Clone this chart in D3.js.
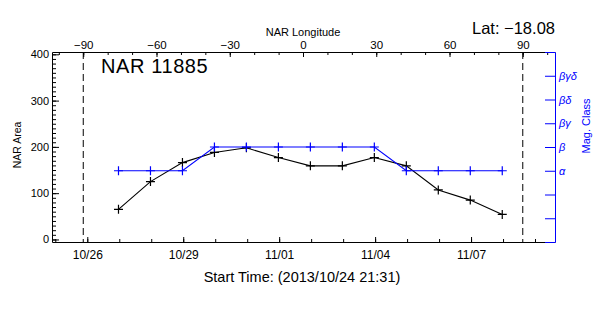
<!DOCTYPE html>
<html>
<head>
<meta charset="utf-8">
<script src="https://cdn.jsdelivr.net/npm/d3@7"></script>
<style>
  body { margin: 0; background: #fff; }
  text { font-family: "Liberation Sans", Arial, sans-serif; }
</style>
</head>
<body>
<div class="graph"></div>
<script>
const w = 600;
const h = 315;
const margin = {top: 52, right: 45, bottom: 73, left: 52};

// one observation per day
const obsTimes = ["2013-10-26T23:25Z", "2013-10-27T23:25Z", "2013-10-28T23:25Z", "2013-10-29T23:25Z",
                  "2013-10-30T23:25Z", "2013-10-31T23:25Z", "2013-11-01T23:25Z", "2013-11-02T23:25Z",
                  "2013-11-03T23:25Z", "2013-11-04T23:25Z", "2013-11-05T23:25Z", "2013-11-06T23:25Z",
                  "2013-11-07T23:25Z"];
const areas = [65, 125, 166, 188, 198, 177, 159, 159, 177, 159, 107, 85, 54];
const magClass = ["α", "α", "α", "β", "β", "β", "β", "β", "β", "α", "α", "α", "α"];

// tick labels
const classLabels = ["", "", "", "α", "β", "βγ", "βδ", "βγδ", ""];
const dayLabels = ["2013-10-26", "2013-10-29", "2013-11-01", "2013-11-04", "2013-11-07"];
const lonLabels = [-90, -60, -30, 0, 30, 60, 90];
const areaLabels = [0, 100, 200, 300, 400];
const limbs = [-90, 90];

const timeRange = ["2013-10-24T21:31Z", "2013-11-09T15:00Z"];
const lonRange = [-102.8, 103.2];
const areaRange = [-5.5, 405];

const data = obsTimes.map((t, i) => ({
  date: new Date(t),
  area: areas[i],
  mag: classLabels.indexOf(magClass[i])
}));

const canvas = d3.select(".graph")
  .append("svg")
  .attr("width", w)
  .attr("height", h)
  .style("display", "block");

canvas.append("rect").attr("width", w).attr("height", h).attr("fill", "#fff");

const x = d3.scaleUtc()
  .domain(timeRange.map(d => new Date(d)))
  .range([margin.left, w - margin.right]);

const lon = d3.scaleLinear()
  .domain(lonRange)
  .range([margin.left, w - margin.right]);

const y = d3.scaleLinear()
  .domain(areaRange)
  .range([h - margin.bottom, margin.top]);

const yMag = d3.scaleLinear()
  .domain([0, classLabels.length - 1])
  .range([h - margin.bottom, margin.top]);

function styleAxis(g, size, color) {
  g.attr("font-family", null).attr("font-size", null);
  g.selectAll("text").style("font-size", size + "px").attr("fill", color);
  g.selectAll("line").attr("stroke", color);
  g.select(".domain").attr("stroke", color);
}

// bottom axis (time)
canvas.append("g")
  .attr("transform", `translate(0,${h - margin.bottom})`)
  .call(d3.axisBottom(x)
    .tickValues(d3.utcDay.range(x.domain()[0], x.domain()[1]))
    .tickSize(-3).tickFormat(""))
  .call(g => g.select(".domain").remove());

canvas.append("g")
  .attr("transform", `translate(0,${h - margin.bottom})`)
  .call(d3.axisBottom(x)
    .tickValues(dayLabels.map(d => new Date(d + "T00:00Z")))
    .tickSize(-5).tickSizeOuter(0).tickPadding(8)
    .tickFormat(d3.utcFormat("%m/%d")))
  .call(g => styleAxis(g, 12, "#000"));

// top axis (longitude)
canvas.append("g")
  .attr("transform", `translate(0,${margin.top})`)
  .call(d3.axisTop(lon)
    .tickValues(d3.range(-100, 101, 10))
    .tickSize(-3).tickFormat(""))
  .call(g => g.select(".domain").remove());

canvas.append("g")
  .attr("transform", `translate(0,${margin.top})`)
  .call(d3.axisTop(lon)
    .tickValues(lonLabels)
    .tickSize(-5).tickSizeOuter(0).tickPadding(3.5)
    .tickFormat(d => d < 0 ? "\u2212" + Math.abs(d) : d))
  .call(g => styleAxis(g, 11.5, "#000"));

// left axis (area)
canvas.append("g")
  .attr("transform", `translate(${margin.left},0)`)
  .call(d3.axisLeft(y)
    .tickValues(d3.range(0, 401, 10))
    .tickSize(-4).tickFormat(""))
  .call(g => g.select(".domain").remove());

canvas.append("g")
  .attr("transform", `translate(${margin.left},0)`)
  .call(d3.axisLeft(y)
    .tickValues(areaLabels)
    .tickSize(-7).tickSizeOuter(0).tickPadding(3))
  .call(g => styleAxis(g, 11, "#000"));

// right axis (magnetic class)
canvas.append("g")
  .attr("transform", `translate(${w - margin.right},0)`)
  .call(d3.axisRight(yMag)
    .tickValues(d3.range(classLabels.length))
    .tickSize(-10).tickSizeOuter(0).tickPadding(4)
    .tickFormat(d => classLabels[d]))
  .call(g => styleAxis(g, 11, "#0000ff"))
  .call(g => g.selectAll("text").style("font-style", "italic"));

// limb lines
canvas.selectAll(".limb")
  .data(limbs)
  .enter().append("line")
  .attr("class", "limb")
  .attr("x1", d => lon(d)).attr("x2", d => lon(d))
  .attr("y1", margin.top).attr("y2", h - margin.bottom)
  .attr("stroke", "#000")
  .attr("stroke-dasharray", "7,4");

// area series
canvas.append("path")
  .datum(data)
  .attr("fill", "none")
  .attr("stroke", "#000")
  .attr("stroke-width", 1.1)
  .attr("d", d3.line().x(d => x(d.date)).y(d => y(d.area)));

canvas.selectAll(".pt-area")
  .data(data)
  .enter().append("path")
  .attr("class", "pt-area")
  .attr("transform", d => `translate(${x(d.date)},${y(d.area)})`)
  .attr("d", "M-4.5,0H4.5M0,-4.5V4.5")
  .attr("stroke", "#000")
  .attr("stroke-width", 1.2);

// magnetic class series
canvas.append("path")
  .datum(data)
  .attr("fill", "none")
  .attr("stroke", "#0000ff")
  .attr("stroke-width", 1.1)
  .attr("d", d3.line().x(d => x(d.date)).y(d => yMag(d.mag)));

canvas.selectAll(".pt-mag")
  .data(data)
  .enter().append("path")
  .attr("class", "pt-mag")
  .attr("transform", d => `translate(${x(d.date)},${yMag(d.mag)})`)
  .attr("d", "M-4.5,0H4.5M0,-4.5V4.5")
  .attr("stroke", "#0000ff")
  .attr("stroke-width", 1.2);

// titles
canvas.append("text")
  .attr("x", lon(0)).attr("y", 36)
  .attr("text-anchor", "middle")
  .style("font-size", "11px")
  .text("NAR Longitude");

canvas.append("text")
  .attr("x", w - margin.right).attr("y", 34)
  .attr("text-anchor", "end")
  .style("font-size", "16.5px")
  .text("Lat: \u221218.08");

canvas.append("text")
  .attr("x", 101).attr("y", 73)
  .style("font-size", "20px")
  .style("letter-spacing", "0.6px")
  .text("NAR 11885");

canvas.append("text")
  .attr("x", 302).attr("y", 281.5)
  .attr("text-anchor", "middle")
  .style("font-size", "14.5px")
  .text("Start Time: (2013/10/24 21:31)");

canvas.append("text")
  .attr("transform", `translate(21,${(margin.top + h - margin.bottom) / 2 - 2}) rotate(-90)`)
  .attr("text-anchor", "middle")
  .style("font-size", "10.5px")
  .text("NAR Area");

canvas.append("text")
  .attr("transform", `translate(590,126) rotate(-90)`)
  .attr("text-anchor", "middle")
  .attr("fill", "#0000ff")
  .style("font-size", "11px")
  .text("Mag. Class");
</script>
</body>
</html>
